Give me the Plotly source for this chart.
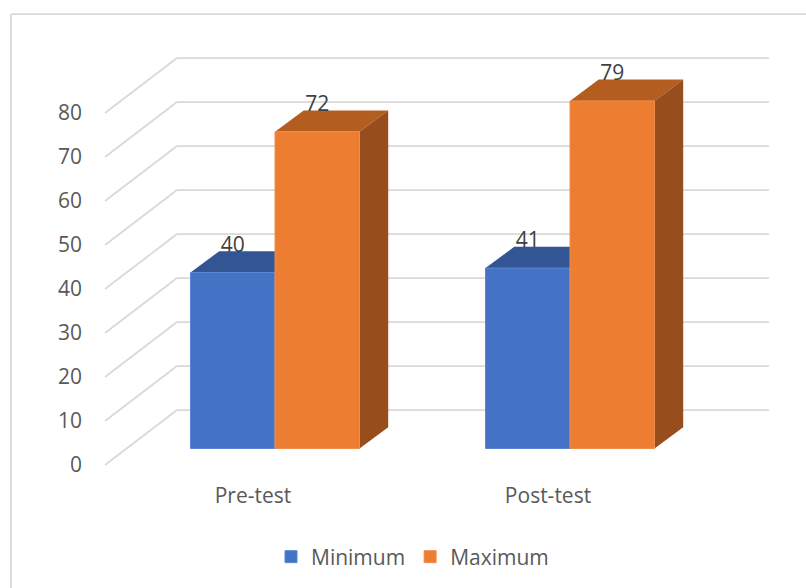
import plotly.graph_objects as go

categories = ["Pre-test", "Post-test"]
minimum = [40, 41]
maximum = [72, 79]
axis_ticks = [0, 10, 20, 30, 40, 50, 60, 70, 80]

W, H = 806, 588
L, R, T, B = 86, 806, 20, 480
PX_PER_X = 295.0
PX_PER_V = 4.4
def x_of(px): return (px - 275.0) / PX_PER_X + 1
def v_of(py): return (448.5 - py) / PX_PER_V

BAR_W = 84.5 / PX_PER_X
DX, DV = 28.7 / PX_PER_X, 21.3 / PX_PER_V
BACK_V, FRONT_V = v_of(410), v_of(465)
BX0, BX1, FX0 = x_of(177), x_of(769), x_of(105)
GRID = "#D9D9D9"

shapes = []
def line(x0, y0, x1, y1):
    shapes.append(dict(type="line", xref="x", yref="y", x0=x0, y0=y0, x1=x1, y1=y1,
                       layer="below", line=dict(color=GRID, width=1.75)))
for t in axis_ticks:
    line(FX0, FRONT_V + t, BX0, BACK_V + t)
    line(BX0, BACK_V + t, BX1, BACK_V + t)

def poly(pts, color):
    path = "M " + " L ".join(f"{a},{b}" for a, b in pts) + " Z"
    shapes.append(dict(type="path", xref="x", yref="y", path=path, layer="below",
                       fillcolor=color, line=dict(width=0)))

for i in range(len(categories)):
    c = i + 1
    a, b = minimum[i], maximum[i]
    poly([(c - BAR_W, a), (c - BAR_W + DX, a + DV), (c + DX, a + DV), (c, a)], "#335593")
    poly([(c, b), (c + DX, b + DV), (c + BAR_W + DX, b + DV), (c + BAR_W, b)], "#B45D20")
    poly([(c + BAR_W, 0), (c + BAR_W + DX, DV), (c + BAR_W + DX, b + DV), (c + BAR_W, b)], "#974E1C")

# outer chart frame (top and left edges)
fx = (11 - L) / (R - L)
fy = 1 - (14 - T) / (B - T)
frame = dict(color=GRID, width=1.75)
shapes.append(dict(type="line", xref="paper", yref="paper", x0=fx, y0=fy, x1=1, y1=fy, line=frame, layer="below"))
shapes.append(dict(type="line", xref="paper", yref="paper", x0=fx, y0=fy, x1=fx, y1=1 - (H - T) / (B - T), line=frame, layer="below"))

xs = [i + 1 for i in range(len(categories))]
FONT = "Open Sans"
SIZE = 21
fig = go.Figure()
fig.add_bar(x=xs, y=minimum, name="Minimum", width=BAR_W, offset=-BAR_W,
            marker=dict(color="#4472C4", line=dict(color="#5B86D6", width=1)))
fig.add_bar(x=xs, y=maximum, name="Maximum", width=BAR_W, offset=0,
            marker=dict(color="#ED7D31", line=dict(color="#F08E4C", width=1)))
LABEL_UP = 26 / PX_PER_V
fig.add_scatter(x=[c - BAR_W / 2 for c in xs] + [c + BAR_W / 2 for c in xs],
                y=[v + LABEL_UP for v in minimum] + [v + LABEL_UP for v in maximum],
                mode="text", text=[str(v) for v in minimum + maximum],
                textposition="middle center", showlegend=False, hoverinfo="skip",
                textfont=dict(family=FONT, size=SIZE, color="#404040"))

fig.update_layout(
    width=W, height=H, margin=dict(l=L, r=W - R, t=T, b=H - B),
    paper_bgcolor="white", plot_bgcolor="rgba(0,0,0,0)", barmode="overlay",
    shapes=shapes, showlegend=True,
    font=dict(family=FONT, size=SIZE, color="#595959"),
    legend=dict(orientation="h", x=271 / W, xanchor="left", xref="container",
                y=1 - 557 / H, yanchor="middle", yref="container",
                font=dict(family=FONT, size=SIZE, color="#595959"),
                bgcolor="rgba(0,0,0,0)"),
    xaxis=dict(range=[x_of(L), x_of(R)], showgrid=False, zeroline=False, showline=False,
               tickmode="array", tickvals=[c - 22 / PX_PER_X for c in xs], ticktext=categories,
               ticks="", ticklen=0, ticklabelstandoff=1),
    yaxis=dict(range=[v_of(B), v_of(T)], showgrid=False, zeroline=False, showline=False,
               tickmode="array", tickvals=[FRONT_V + t for t in axis_ticks],
               ticktext=[str(t) for t in axis_ticks], ticks="", ticklen=0, ticklabelstandoff=3),
)
fig.write_html("out.html", config={"displayModeBar": False},
               post_script="document.body.style.margin='0';")
